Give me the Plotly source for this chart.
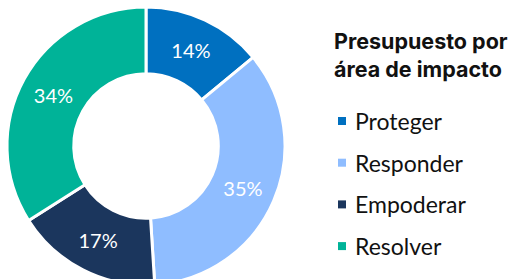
import plotly.graph_objects as go

labels = ["Proteger", "Responder", "Empoderar", "Resolver"]
values = [14, 35, 17, 34]
colors = ["#0070C0", "#8FBDFF", "#1B365D", "#00B398"]
legend_title = "Presupuesto por<br>área de impacto"

W, H = 513, 292  # page is 279 tall; pie extends below the visible area


def px(x):
    return x / W


def py(y):
    return 1 - y / H


fig = go.Figure()
fig.add_trace(go.Pie(
    labels=labels,
    values=values,
    hole=0.52,
    sort=False,
    direction="clockwise",
    rotation=0,
    marker=dict(colors=colors, line=dict(color="white", width=3)),
    texttemplate="%{percent:.0%}",
    textposition="inside",
    insidetextorientation="horizontal",
    textfont=dict(family="Lato", size=20, color="white"),
    domain=dict(x=[0, 292 / W], y=[py(285), py(7)]),
    showlegend=False,
    hoverinfo="label+percent",
))

annotations = [dict(
    x=px(332), y=py(26), xref="paper", yref="paper",
    xanchor="left", yanchor="top", align="left",
    text="<b>" + legend_title + "</b>", showarrow=False,
    font=dict(family="Inter", size=21.5, color="#111111"),
)]
shapes = []
y0, step = 121, 41.7
for i, (lab, col) in enumerate(zip(labels, colors)):
    yc = y0 + step * i
    shapes.append(dict(
        type="rect", xref="paper", yref="paper",
        x0=px(338), x1=px(346), y0=py(yc - 4), y1=py(yc + 4),
        fillcolor=col, line=dict(width=0),
    ))
    annotations.append(dict(
        x=px(353), y=py(yc), xref="paper", yref="paper",
        xanchor="left", yanchor="middle", align="left",
        text=lab, showarrow=False,
        font=dict(family="Lato", size=23, color="#111111"),
    ))

fig.update_layout(
    width=W, height=H,
    margin=dict(l=0, r=0, t=0, b=0),
    paper_bgcolor="white", plot_bgcolor="white",
    annotations=annotations, shapes=shapes,
)

fig.write_html(
    "out.html",
    config={"displayModeBar": False},
    post_script="document.body.style.margin='0';document.body.style.overflow='hidden';",
)
